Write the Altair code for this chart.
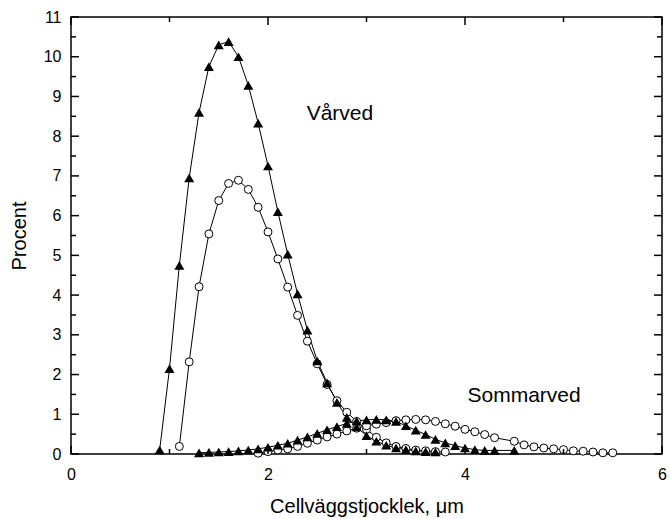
import altair as alt
import pandas as pd

# ---- data ----
vt_x = [0.9, 1.0, 1.1, 1.2, 1.3, 1.4, 1.5, 1.6, 1.7, 1.8, 1.9, 2.0, 2.1, 2.2, 2.3,
        2.4, 2.5, 2.6, 2.7, 2.8, 2.9, 3.0, 3.1, 3.2, 3.3, 3.4, 3.5, 3.6, 3.7]
vt_y = [0.1, 2.15, 4.75, 6.95, 8.6, 9.75, 10.3, 10.38, 10.0, 9.28, 8.33, 7.25, 6.1, 5.03, 4.03,
        3.12, 2.34, 1.79, 1.3, 0.92, 0.68, 0.46, 0.32, 0.22, 0.15, 0.11, 0.08, 0.06, 0.05]

vc_x = [1.1, 1.2, 1.3, 1.4, 1.5, 1.6, 1.7, 1.8, 1.9, 2.0, 2.1, 2.2, 2.3, 2.4,
        2.5, 2.6, 2.7, 2.8, 2.9, 3.0, 3.1, 3.2, 3.3, 3.4, 3.5, 3.6, 3.7, 3.8]
vc_y = [0.19, 2.32, 4.21, 5.54, 6.38, 6.81, 6.89, 6.66, 6.21, 5.59, 4.91, 4.2, 3.49, 2.84,
        2.27, 1.75, 1.34, 1.05, 0.82, 0.62, 0.42, 0.28, 0.19, 0.14, 0.1, 0.08, 0.06, 0.05]

st_x = [1.3, 1.4, 1.5, 1.6, 1.7, 1.8, 1.9, 2.0, 2.1, 2.2, 2.3, 2.4, 2.5, 2.6, 2.7, 2.8,
        2.9, 3.0, 3.1, 3.2, 3.3, 3.4, 3.5, 3.6, 3.7, 3.8, 3.9, 4.0, 4.1, 4.2, 4.3, 4.5]
st_y = [0.03, 0.04, 0.05, 0.06, 0.08, 0.1, 0.13, 0.17, 0.22, 0.27, 0.35, 0.43, 0.52, 0.61, 0.69, 0.77,
        0.83, 0.86, 0.87, 0.86, 0.82, 0.71, 0.6, 0.49, 0.37, 0.28, 0.21, 0.15, 0.11, 0.09, 0.09, 0.09]

sc_x = [1.9, 2.0, 2.1, 2.2, 2.3, 2.4, 2.5, 2.6, 2.7, 2.8, 2.9, 3.0, 3.1, 3.2, 3.3, 3.4, 3.5, 3.6,
        3.7, 3.8, 3.9, 4.0, 4.1, 4.2, 4.3, 4.5, 4.6, 4.7, 4.8, 4.9, 5.0, 5.1, 5.2, 5.3, 5.4, 5.5]
sc_y = [0.02, 0.06, 0.1, 0.13, 0.19, 0.27, 0.35, 0.43, 0.5, 0.58, 0.65, 0.71, 0.75, 0.79, 0.84, 0.86, 0.87, 0.86,
        0.82, 0.76, 0.7, 0.62, 0.56, 0.49, 0.41, 0.32, 0.23, 0.18, 0.15, 0.13, 0.11, 0.08, 0.07, 0.05, 0.03, 0.03]

x_major = [0, 2, 4, 6]
x_minor = [1, 3, 5]
y_major = [0, 1, 2, 3, 4, 5, 6, 7, 8, 9, 10, 11]
y_minor = [0.5, 1.5, 2.5, 3.5, 4.5, 5.5, 6.5, 7.5, 8.5, 9.5, 10.5]

labels = ["Vårved", "Sommarved"]
label_x = [2.73, 4.6]
label_y = [8.55, 1.47]

x_title = "Cellväggstjocklek, μm"
y_title = "Procent"

# ---- build tables ----
rows = []
for name, shape, xs_, ys_ in [("Vårved A", "tri", vt_x, vt_y), ("Vårved B", "circ", vc_x, vc_y),
                              ("Sommarved A", "tri", st_x, st_y), ("Sommarved B", "circ", sc_x, sc_y)]:
    for a, b in zip(xs_, ys_):
        rows.append({"series": name, "shape": shape, "x": a, "y": b})
df = pd.DataFrame(rows)

W, H = 591, 437
FONT = "Liberation Sans"

xs = alt.Scale(domain=[0, 6], nice=False, zero=False)
ys = alt.Scale(domain=[0, 11], nice=False, zero=False)

X_AX = alt.Axis(values=x_major, format="d", ticks=False, domain=False, grid=False,
                labelOverlap=False, labelFlush=False,
                labelPadding=12, labelFontSize=16, labelFont=FONT, labelColor="black",
                titleFontSize=20, titleFont=FONT, titleFontWeight="normal",
                titleColor="black", titlePadding=14)
Y_AX = alt.Axis(values=y_major, format="d", ticks=False, domain=False, grid=False,
                labelOverlap=False, labelFlush=False,
                labelPadding=10, labelFontSize=16, labelFont=FONT, labelColor="black",
                titleFontSize=20, titleFont=FONT, titleFontWeight="normal",
                titleColor="black", titlePadding=14)


def X(field):
    return alt.X(field, scale=xs, axis=X_AX, title=x_title)


def Y(field):
    return alt.Y(field, scale=ys, axis=Y_AX, title=y_title)


base = alt.Chart(df)
lines = base.mark_line(color="black", strokeWidth=1).encode(
    x=X("x:Q"), y=Y("y:Q"), detail="series:N", order="x:Q")
circles = base.transform_filter(alt.datum.shape == "circ").mark_point(
    shape="circle", filled=True, fill="white", stroke="black", strokeWidth=1,
    size=64, opacity=1).encode(x=X("x:Q"), y=Y("y:Q"))
tris = base.transform_filter(alt.datum.shape == "tri").mark_point(
    shape="triangle-up", filled=True, color="black", size=100, opacity=1).encode(
    x=X("x:Q"), y=Y("y:Q"))


def tick_df(vals):
    return pd.DataFrame({"v": vals})


MAJ, MIN = 8, 5
tick_layers = []
for vals, L in [(x_major, MAJ), (x_minor, MIN)]:
    tick_layers.append(alt.Chart(tick_df(vals)).mark_rule(color="black", strokeWidth=1.5).encode(
        x=X("v:Q"), y=alt.value(H), y2=alt.value(H - L)))
    tick_layers.append(alt.Chart(tick_df(vals)).mark_rule(color="black", strokeWidth=1.5).encode(
        x=X("v:Q"), y=alt.value(0), y2=alt.value(L)))
for vals, L in [(y_major, MAJ), (y_minor, MIN)]:
    tick_layers.append(alt.Chart(tick_df(vals)).mark_rule(color="black", strokeWidth=1.5).encode(
        y=Y("v:Q"), x=alt.value(0), x2=alt.value(L)))
    tick_layers.append(alt.Chart(tick_df(vals)).mark_rule(color="black", strokeWidth=1.5).encode(
        y=Y("v:Q"), x=alt.value(W), x2=alt.value(W - L)))

texts = alt.Chart(pd.DataFrame({"t": labels, "x": label_x, "y": label_y})).mark_text(
    font=FONT, fontSize=21, color="black", align="center", baseline="middle").encode(
    x=X("x:Q"), y=Y("y:Q"), text="t:N")

chart = alt.layer(lines, circles, tris, *tick_layers, texts).properties(
    width=W, height=H,
    autosize=alt.AutoSizeParams(type="none"),
    padding={"left": 71, "top": 17, "right": 8, "bottom": 65},
    background="white",
).configure_view(stroke="black", strokeWidth=1.5).configure_axis(labelOverlap=False)

chart.save("out.html", embed_options={"renderer": "svg", "actions": False})
